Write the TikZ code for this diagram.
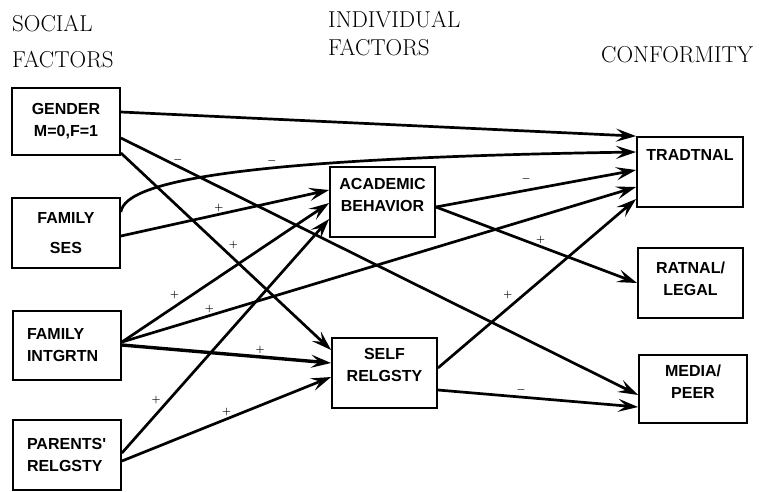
\documentclass[tikz,border=0pt]{standalone}
\usepackage{fontspec}
\usepackage{bm}
\newfontfamily\boxfont{Liberation Sans}
\usetikzlibrary{arrows.meta}

\begin{document}
\begin{tikzpicture}[
    x=1pt, y=-1pt,
    factor/.style={draw, line width=1.8pt, minimum width=106pt, minimum height=70pt,
                   inner sep=2pt, align=center,
                   font=\boxfont\bfseries\fontsize{16}{22}\selectfont},
    heading/.style={anchor=base west, inner sep=0pt, align=left,
                    font=\fontsize{23}{36}\selectfont},
    link/.style={line width=2.7pt, -{Stealth[length=20pt, width=13pt, inset=8pt]}},
    sign/.style={inner sep=1.5pt, font=\normalsize}]

\useasboundingbox (0,0) rectangle (759,491);

% column headings
\node[heading] (social) at (12,67) {SOCIAL\\FACTORS};
\node[heading, font=\fontsize{23}{28}\selectfont] (individual) at (328,55) {INDIVIDUAL\\FACTORS};
\node[heading] (conformity) at (601,62) {CONFORMITY};

% social factors
\node[factor, minimum width=108pt, minimum height=67pt] (gender) at (66,121.5) {GENDER\\M=0,F=1};
\node[factor, minimum width=108pt] (ses) at (66,233) {FAMILY\\[8pt]SES};
\node[factor, minimum width=108pt, minimum height=69pt, text width=80pt, align=left] (intgrtn) at (67,345.5) {FAMILY\\INTGRTN};
\node[factor, minimum width=108pt, text width=80pt, align=left] (parents) at (67,455) {PARENTS'\\RELGSTY};

% individual factors
\node[factor, minimum width=105pt, text depth=14pt] (academic) at (382.5,202) {ACADEMIC\\BEHAVIOR};
\node[factor, minimum width=105pt, text depth=16pt] (self) at (384.5,373) {SELF\\RELGSTY};

% conformity
\node[factor, text height=12pt, text depth=36pt, inner ysep=11pt] (tradtnal) at (690,172) {TRADTNAL};
\node[factor, minimum width=105pt, text depth=9pt] (ratnal) at (690.5,283) {RATNAL/\\LEGAL};
\node[factor, minimum width=108pt, minimum height=68pt, text depth=15pt] (media) at (693,389) {MEDIA/\\PEER};

% paths
\draw[link] (gender.east |- 0,112) -- (tradtnal.north west);
\draw[link] (gender.east |- 0,138) -- node[sign, pos=0.11, above] {$\bm{-}$} (media.west |- 0,395);
\draw[link] (gender.east |- 0,153) -- node[sign, pos=0.5, above right] {$\bm{+}$} (self.west |- 0,350);
\draw[link] (ses.east |- 0,212) .. controls (125,180) and (250,158) .. (tradtnal.west |- 0,152)
    node[sign, pos=0.57, above] {$\bm{-}$};
\draw[link] (ses.east |- 0,236) -- node[sign, pos=0.47, above] {$\bm{+}$} (academic.west |- 0,190);
\draw[link] (intgrtn.east |- 0,342) -- node[sign, pos=0.29, above left] {$\bm{+}$} (academic.west |- 0,203);
\draw[link] (intgrtn.east |- 0,342) -- node[sign, pos=0.17, above] {$\bm{+}$} (tradtnal.west |- 0,187);
\draw[link, line width=3.4pt] (intgrtn.east |- 0,345) -- node[sign, pos=0.66, above] {$\bm{+}$} (self.west |- 0,363);
\draw[link] (parents.east |- 0,453) -- node[sign, pos=0.2, above left] {$\bm{+}$} (academic.west |- 0,219);
\draw[link] (parents.east |- 0,461) -- node[sign, pos=0.5, above] {$\bm{+}$} (self.west |- 0,377);
\draw[link] (academic.east |- 0,207) -- node[sign, pos=0.45, above=5pt] {$\bm{-}$} (tradtnal.west |- 0,170);
\draw[link] (academic.east |- 0,207) -- node[sign, pos=0.52, above] {$\bm{+}$} (ratnal.west);
\draw[link] (self.east |- 0,368) -- node[sign, pos=0.39, above left] {$\bm{+}$} (tradtnal.west |- 0,199);
\draw[link] (self.east |- 0,390) -- node[sign, pos=0.415, above] {$\bm{-}$} (media.west |- 0,407);

\end{tikzpicture}
\end{document}
